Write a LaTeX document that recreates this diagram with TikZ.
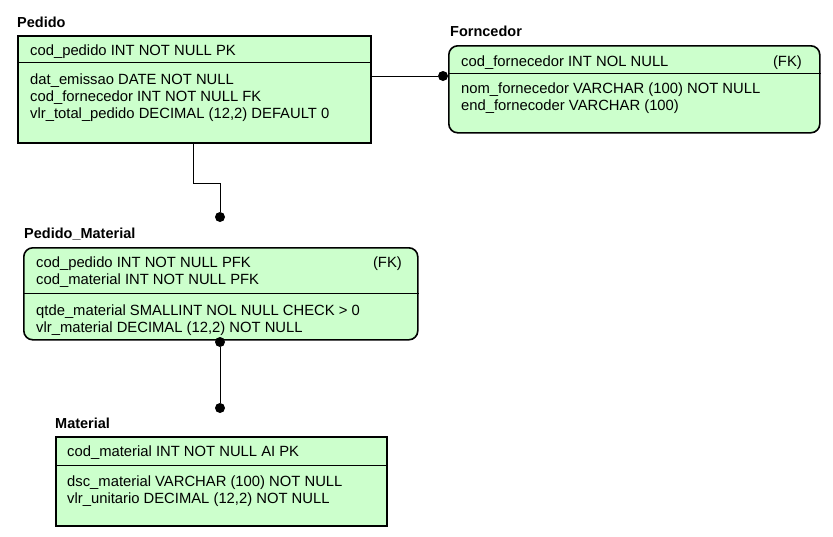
\documentclass[tikz,border=0pt]{standalone}
\usepackage{fontspec}
\setmainfont{Liberation Sans}
\usetikzlibrary{arrows.meta,positioning,calc}
\usepackage{xcolor}
\definecolor{tabverde}{HTML}{CCFFCC}

\begin{document}
\begin{tikzpicture}[x=1pt,y=-1pt,
  tabela/.style={draw,line width=1.6pt,fill=tabverde,anchor=north west,inner sep=0pt},
  campo/.style={anchor=base west,inner sep=0pt,font=\fontsize{14.8}{17}\selectfont},
  titulo/.style={anchor=base west,inner sep=0pt,font=\bfseries\fontsize{14.5}{17}\selectfont},
  divisa/.style={line width=0.8pt},
  liga/.style={line width=0.9pt},
  ponto/.style={circle,fill=black,inner sep=0pt,minimum size=10pt}]
\useasboundingbox (0,0) rectangle (833,536);
% tabela Pedido
\node[titulo] (tPedido) at (17,27.5) {Pedido};
\node[tabela,minimum width=353pt,minimum height=107pt] (pedido) at (17,35) {};
\draw[divisa] (pedido.west |- 0,62) -- (pedido.east |- 0,62);
\node[campo] (p1) at (30,55) {cod\_pedido INT NOT NULL PK};
\node[campo] (p2) at (30,84) {dat\_emissao DATE NOT NULL};
\node[campo] (p3) at (30,101) {cod\_fornecedor INT NOT NULL FK};
\node[campo] (p4) at (30,118) {vlr\_total\_pedido DECIMAL (12,2) DEFAULT 0};
% tabela Forncedor
\node[titulo] (tForn) at (450,36.5) {Forncedor};
\node[tabela,rounded corners=9pt,minimum width=371pt,minimum height=87pt] (forn) at (448,45) {};
\draw[divisa] (forn.west |- 0,73) -- (forn.east |- 0,73);
\node[campo] (f1) at (461,66) {cod\_fornecedor INT NOL NULL};
\node[campo,anchor=base east] (f1k) at (802,66) {(FK)};
\node[campo] (f2) at (461,93) {nom\_fornecedor VARCHAR (100) NOT NULL};
\node[campo] (f3) at (461,110) {end\_fornecoder VARCHAR (100)};
% tabela Pedido_Material
\node[titulo] (tPM) at (24,238) {Pedido\_Material};
\node[tabela,rounded corners=9pt,minimum width=394pt,minimum height=92pt] (pm) at (23,247) {};
\draw[divisa] (pm.west |- 0,293) -- (pm.east |- 0,293);
\node[campo] (m1) at (36,267) {cod\_pedido INT NOT NULL PFK};
\node[campo,anchor=base east] (m1k) at (402,267) {(FK)};
\node[campo] (m2) at (36,284) {cod\_material INT NOT NULL PFK};
\node[campo] (m3) at (36,315) {qtde\_material SMALLINT NOL NULL CHECK > 0};
\node[campo] (m4) at (36,332) {vlr\_material DECIMAL (12,2) NOT NULL};
% tabela Material
\node[titulo] (tMat) at (55,428) {Material};
\node[tabela,minimum width=331pt,minimum height=89pt] (mat) at (55,436) {};
\draw[divisa] (mat.west |- 0,465) -- (mat.east |- 0,465);
\node[campo] (a1) at (67,456) {cod\_material INT NOT NULL AI PK};
\node[campo] (a2) at (67,486) {dsc\_material VARCHAR (100) NOT NULL};
\node[campo] (a3) at (67,503) {vlr\_unitario DECIMAL (12,2) NOT NULL};
% ligacoes
\node[ponto] (dForn) at (443,76) {};
\draw[liga] (pedido.east |- dForn) -- (dForn);
\node[ponto] (dPM) at (220,217) {};
\coordinate (pedBaixo) at (193,142);
\draw[liga] (pedBaixo) -- ++(0,41) -| (dPM);
\node[ponto] (dPMb) at (220,342) {};
\node[ponto] (dMat) at (220,408) {};
\draw[liga] (dPMb) -- (dMat);
\end{tikzpicture}
\end{document}
